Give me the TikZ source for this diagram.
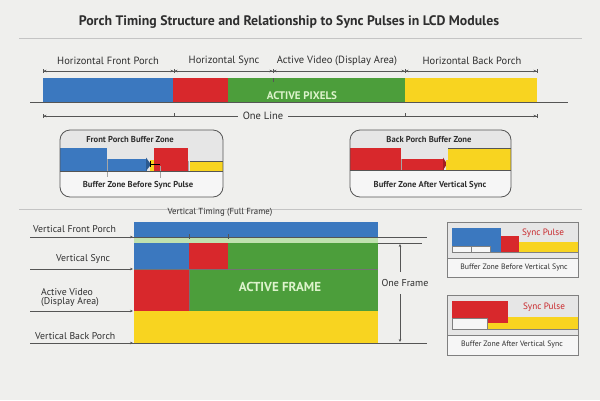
\documentclass[tikz,border=0pt]{standalone}
\usepackage{fontspec}
\setmainfont{PT Sans}
\usetikzlibrary{arrows.meta}
\definecolor{bg}{HTML}{EFEFED}
\definecolor{blueC}{HTML}{3B78BF}
\definecolor{redC}{HTML}{D8282C}
\definecolor{greenC}{HTML}{4C9E3B}
\definecolor{yellowC}{HTML}{F8D420}
\definecolor{txtc}{HTML}{2E2E2E}
\definecolor{actc}{HTML}{DDF3CC}
\definecolor{linec}{HTML}{555555}
\definecolor{rulec}{HTML}{C4C4C4}
\definecolor{boxfill}{HTML}{E6E6E6}
\definecolor{boxlow}{HTML}{F6F6F6}
\definecolor{syncred}{HTML}{C8262A}
\newcommand\myfs[1]{\fontsize{#1}{#1}\selectfont}
\begin{document}
\begin{tikzpicture}[x=1pt,y=-1pt,
  txt/.style={text=txtc, inner sep=0pt, anchor=center},
  lbl/.style={txt, font=\myfs{10.5}},
  vlbl/.style={txt, font=\myfs{9.8}, anchor=west},
  btitle/.style={txt, font=\bfseries\myfs{8.6}},
  rtxt/.style={txt, font=\myfs{7.8}},
  spulse/.style={inner sep=0pt, text=syncred, font=\myfs{9.2}},
  acttxt/.style={inner sep=0pt, text=actc, font=\bfseries},
  dim/.style={linec, line width=0.5pt, {Bar[width=4pt]Stealth[length=3pt,width=2.6pt]}-{Stealth[length=3pt,width=2.6pt]Bar[width=4pt]}},
  gline/.style={linec, line width=0.6pt},
  pt/.style={-{Stealth[length=3pt,width=2.6pt]}, linec, line width=0.6pt},
  rulel/.style={rulec, line width=0.8pt},
  bbox/.style={draw=linec, line width=0.8pt, rounded corners=10pt},
  sbox/.style={draw=gray, line width=0.7pt},
  wbox/.style={fill=boxlow, draw=gray, line width=0.4pt}
]
\useasboundingbox (0,0) rectangle (600,400);
\fill[bg] (0,0) rectangle (600,400);

% ---------- title ----------
\node[txt, font=\bfseries\myfs{13.8}] (title) at (289,22) {Porch Timing Structure and Relationship to Sync Pulses in LCD Modules};
\coordinate (r1a) at (19,38); \coordinate (r1b) at (582,38);
\draw[rulel] (r1a) -- (r1b);

% ---------- horizontal timing ----------
\node[lbl] (hfp) at (108,61) {Horizontal Front Porch};
\node[lbl] (hs)  at (224,61) {Horizontal Sync};
\node[lbl] (hav) at (337,61) {Active Video (Display Area)};
\node[lbl] (hbp) at (472,61) {Horizontal Back Porch};

\coordinate (t0) at (43,71); \coordinate (t1) at (174,71); \coordinate (t2) at (273,71);
\coordinate (t3) at (405,71); \coordinate (t4) at (537,71);
\draw[dim] (t0) -- (t1);
\draw[dim] (t1) -- (t2);
\draw[dim] (t2) -- (t3);
\draw[dim] (t3) -- (t4);

\fill[blueC] (43,78) rectangle (173,102);
\fill[redC] (173,78) rectangle (228,102);
\fill[greenC] (228,78) rectangle (405,102);
\fill[yellowC] (405,78) rectangle (537,102);
\draw[linec, line width=0.4pt] (273,78) -- (273,82);
\node[acttxt, font=\bfseries\myfs{11}] (ap) at (302,96) {ACTIVE PIXELS};
\coordinate (bl0) at (30,102.5); \coordinate (bl1) at (568,102.5);
\draw[linec, line width=1pt] (bl0) -- (bl1);

\coordinate (o0) at (43,116); \coordinate (o1) at (537,116);
\draw[dim] (o0) -- (o1);
\draw[linec, line width=0.4pt] (174,113) -- (174,117) (405,113) -- (405,117);
\node[lbl, fill=bg, inner xsep=5pt, inner ysep=1pt] (oneline) at (263,116) {One Line};

% ---------- front porch buffer box ----------
\begin{scope}
\clip[rounded corners=10pt] (60,130) rectangle (223,197);
\fill[boxfill] (60,130) rectangle (223,171);
\fill[boxlow] (60,171) rectangle (223,197);
\fill[blueC] (60,148) rectangle (107,170.5);
\fill[blueC] (107,159) rectangle (147,170.5);
\fill[blueC!75!black] (146,157.5) -- (151,164.5) -- (146,171) -- cycle;
\fill[yellowC] (150,160) rectangle (154,170.5);
\fill[redC] (154,148) rectangle (188,170.5);
\fill[yellowC] (190,161) rectangle (223,170.5);
\draw[linec, line width=0.6pt] (190,160.8) -- (223,160.8);
\draw[black, line width=0.6pt] (150,161) -- (150,167) (150,164) -- (160,164);
\draw[gray!70, line width=0.4pt] (107,159) -- (107,177) (160,166) -- (160,178) (188,161) -- (188,172);
\draw[linec, line width=0.6pt] (60,170.8) -- (223,170.8);
\end{scope}
\draw[bbox] (60,130) rectangle (223,197);
\node[btitle] (fpb) at (130,140) {Front Porch Buffer Zone};
\node[btitle] (fpbs) at (138,185) {Buffer Zone Before Sync Pulse};

% ---------- back porch buffer box ----------
\begin{scope}
\clip[rounded corners=10pt] (350,130) rectangle (511,197);
\fill[boxfill] (350,130) rectangle (511,171);
\fill[boxlow] (350,171) rectangle (511,197);
\fill[redC] (350,148) rectangle (401,169.5);
\fill[redC] (401,159) rectangle (444,169.5);
\fill[redC!75!black] (443,157.5) -- (447,164) -- (443,170) -- cycle;
\fill[yellowC] (446,160) rectangle (448,169.5);
\fill[yellowC] (448,148) rectangle (511,169.5);
\draw[linec, line width=0.6pt] (448,148) -- (511,148);
\draw[gray!70, line width=0.4pt] (401,159) -- (401,170);
\draw[linec, line width=0.6pt] (350,170) -- (511,170);
\end{scope}
\draw[bbox] (350,130) rectangle (511,197);
\node[btitle] (bpb) at (429,140) {Back Porch Buffer Zone};
\node[btitle] (bpbs) at (430,185) {Buffer Zone After Vertical Sync};

\coordinate (r2a) at (19,209); \coordinate (r2b) at (582,209);
\draw[rulel] (r2a) -- (r2b);

% ---------- vertical timing ----------
\node[txt, font=\myfs{8.8}] (vt) at (220,212) {Vertical Timing (Full Frame)};
\fill[blueC] (134,222) rectangle (378,236.5);
\fill[actc!80!greenC] (134,237) rectangle (378,243);
\fill[blueC] (134,243) rectangle (189,269);
\fill[redC] (189,243) rectangle (228,269);
\fill[greenC] (228,243) rectangle (378,269);
\fill[redC] (134,269) rectangle (189,311);
\fill[greenC] (189,269) rectangle (378,311);
\fill[yellowC] (134,311) rectangle (378,343);
\draw[black!55, line width=0.5pt] (134,269) -- (378,269);
\draw[black!55, line width=0.5pt] (189,269) -- (189,311);
\node[acttxt, font=\bfseries\myfs{13}] (af) at (280,287) {ACTIVE FRAME};

\coordinate (v0a) at (30,237); \coordinate (v0b) at (427,237);
\draw[gline] (v0a) -- (v0b);
\coordinate (v0p) at (120,237); \coordinate (v0q) at (133,237);
\draw[pt] (v0p) -- (v0q);
\draw[linec, line width=0.5pt] (189,234) -- (189,239) (228,234) -- (228,239);
\coordinate (v1a) at (378,243); \coordinate (v1b) at (422,243);
\draw[gline] (v1a) -- (v1b);
\coordinate (v2a) at (30,269); \coordinate (v2b) at (133,269);
\draw[pt] (v2a) -- (v2b);
\coordinate (v3a) at (30,311); \coordinate (v3b) at (133,311);
\draw[pt] (v3a) -- (v3b);
\coordinate (v4a) at (30,343); \coordinate (v4b) at (427,343);
\draw[gline] (v4a) -- (v4b);
\draw[pt] (120,343) -- (133,343);

\node[vlbl] (vfp) at (33,229) {Vertical Front Porch};
\node[vlbl] (vs) at (56,259) {Vertical Sync};
\node[vlbl, align=left] (vav) at (41,297.5) {Active Video\\(Display Area)};
\node[vlbl] (vbp) at (35,336) {Vertical Back Porch};

\node[txt, font=\myfs{10}] (oneframe) at (405,283) {One Frame};
\coordinate (f0) at (400,244); \coordinate (f1) at (400,342);
\draw[pt] (400,272) -- (f0);
\draw[pt] (400,294) -- (f1);

% ---------- right box 1 ----------
\fill[boxlow] (447,222) rectangle (578,277);
\fill[boxfill] (447,222) rectangle (578,258);
\fill[blueC] (452,228) rectangle (501,252);
\fill[redC] (501,236) rectangle (519,252);
\fill[yellowC] (519,242) rectangle (578,252);
\draw[wbox] (452,246) rectangle (471,252);
\draw[wbox] (471,246) rectangle (490,252);
\draw[gray, line width=0.5pt] (452,252) -- (578,252);
\draw[gray, line width=0.6pt] (447,258) -- (578,258);
\draw[sbox] (447,222) rectangle (578,277);
\node[spulse] (sp1) at (543,233) {Sync Pulse};
\node[rtxt] (rb1) at (514,268) {Buffer Zone Before Vertical Sync};

% ---------- right box 2 ----------
\fill[boxlow] (447,295) rectangle (578,355);
\fill[boxfill] (447,295) rectangle (578,335);
\fill[redC] (452,301) rectangle (508,318);
\fill[redC] (488,318) rectangle (508,323);
\fill[yellowC] (488,323) rectangle (508,329);
\fill[yellowC] (508,317) rectangle (578,329);
\draw[wbox] (452,318) rectangle (487,329);
\draw[gray, line width=0.5pt] (452,329) -- (578,329);
\draw[gray, line width=0.6pt] (447,335) -- (578,335);
\draw[sbox] (447,295) rectangle (578,355);
\node[spulse] (sp2) at (544,307) {Sync Pulse};
\node[rtxt] (rb2) at (512,345) {Buffer Zone After Vertical Sync};
\end{tikzpicture}
\end{document}
